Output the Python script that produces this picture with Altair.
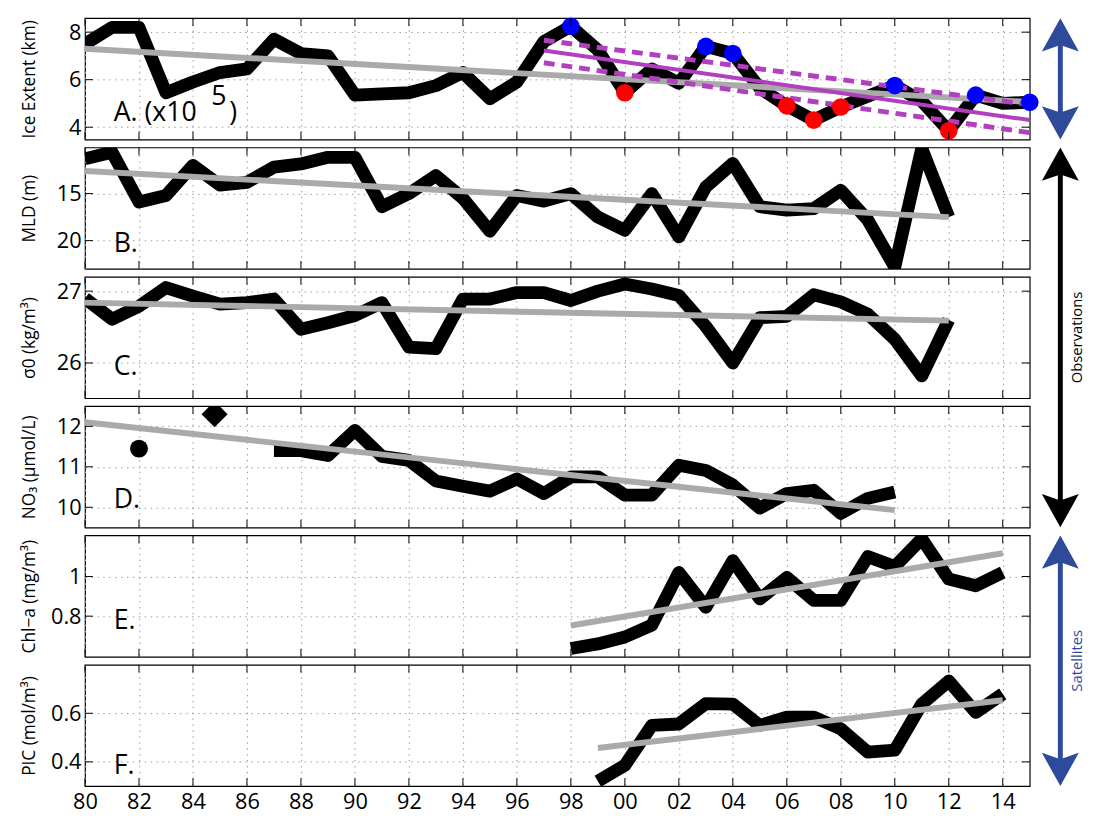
import altair as alt
import pandas as pd

# ---------------- data ----------------
X_TICKS = list(range(1980, 2016, 2))

# A. Ice extent (x10^5 km)
ice_years = list(range(1980, 2016))
ice_extent = [7.5, 8.2, 8.2, 5.45, 5.9, 6.3, 6.45, 7.7, 7.1, 7.0,
              5.35, 5.4, 5.45, 5.75, 6.3, 5.2, 5.9, 7.6, 8.25, 7.25,
              5.45, 6.45, 5.85, 7.4, 7.1, 5.65, 4.9, 4.3, 4.85, 5.3,
              5.75, 5.1, 3.85, 5.35, 5.0, 5.05]
blue_years = [1998, 2003, 2004, 2010, 2013, 2015]
red_years = [2000, 2006, 2007, 2008, 2012]
ice_trend_years = [1980, 2015]
ice_trend = [7.3, 5.06]
fit_years = [1997, 2015]
fit_mid = [7.23, 4.30]
fit_upper = [7.66, 4.95]
fit_lower = [6.71, 3.77]

# B. Mixed layer depth (m)
mld_years = list(range(1980, 2013))
mld = [11.3, 10.6, 15.9, 15.2, 12.0, 14.1, 13.8, 12.2, 11.85, 11.15,
       11.15, 16.4, 15.0, 13.1, 15.5, 19.0, 15.2, 15.8, 15.0, 17.5,
       18.9, 15.0, 19.6, 14.3, 11.8, 16.4, 16.75, 16.6, 14.65, 17.8,
       22.8, 10.2, 17.5]
mld_trend_years = [1980, 2012]
mld_trend = [12.6, 17.5]

# C. sigma0 (kg/m3)
sig_years = list(range(1980, 2013))
sigma0 = [26.9, 26.61, 26.79, 27.05, 26.93, 26.82, 26.84, 26.89, 26.47, 26.56,
          26.66, 26.84, 26.22, 26.2, 26.89, 26.89, 26.98, 26.98, 26.87, 27.0,
          27.1, 27.03, 26.94, 26.51, 26.0, 26.63, 26.65, 26.95, 26.85, 26.68,
          26.33, 25.82, 26.6]
sig_trend_years = [1980, 2012]
sig_trend = [26.84, 26.59]

# D. NO3 (umol/L)
no3_dot_year = [1982]
no3_dot = [11.45]
no3_diamond_year = [1984.8]
no3_diamond = [12.3]
no3_years = list(range(1987, 2011))
no3 = [11.4, 11.4, 11.28, 11.9, 11.26, 11.16, 10.65, 10.52, 10.4, 10.7,
       10.34, 10.75, 10.75, 10.3, 10.3, 11.04, 10.91, 10.55, 9.98, 10.34,
       10.42, 9.85, 10.22, 10.38]
no3_trend_years = [1980, 2010]
no3_trend = [12.1, 9.93]

# E. Chl-a (mg/m3)
chl_years = list(range(1998, 2015))
chl = [0.637, 0.66, 0.695, 0.755, 1.02, 0.845, 1.08, 0.887, 0.995, 0.88,
       0.88, 1.10, 1.05, 1.19, 0.987, 0.953, 1.02]
chl_trend_years = [1998, 2014]
chl_trend = [0.753, 1.117]

# F. PIC (mol/m3)
pic_years = list(range(1999, 2015))
pic = [0.32, 0.386, 0.55, 0.556, 0.64, 0.638, 0.55, 0.584, 0.584, 0.536,
       0.44, 0.448, 0.638, 0.733, 0.604, 0.68]
pic_trend_years = [1999, 2014]
pic_trend = [0.457, 0.654]

# ---------------- layout / style ----------------
W, H, GAP = 957, 123, 8
ARROW_W = 42
FONT = "Open Sans, DejaVu Sans"
BLUE_ARROW = "#2d4a9b"
GRAY = "#aaaaaa"
MAGENTA = "#b23fbf"
TICK_LEN = 8
LABEL_SIZE = 27


def frame(xs, ys):
    return pd.DataFrame({"year": xs, "v": ys})


def make_panel(ytitle, ydomain, yticks, label, extra, reverse=False, bottom=False):
    xscale = alt.Scale(domain=[1980, 2015], nice=False, zero=False)
    yscale = alt.Scale(domain=ydomain, nice=False, zero=False, reverse=reverse)
    if bottom:
        xaxis = alt.Axis(values=X_TICKS, title=None, labels=True,
                         labelExpr="format(datum.value % 100, '02d')",
                         labelPadding=6, labelFlush=False, labelOverlap=False)
    else:
        xaxis = alt.Axis(values=X_TICKS, title=None, labels=False)
    yaxis = alt.Axis(values=yticks, title=ytitle, format="~g", labelPadding=4,
                     titleX=-56, titleY=H / 2, titleAngle=270,
                     titleAlign="center", titleBaseline="middle")

    def X():
        return alt.X("year:Q", scale=xscale, axis=xaxis)

    def Y():
        return alt.Y("v:Q", scale=yscale, axis=yaxis)

    layers = []
    for kind, xs, ys, props in extra:
        d = frame(xs, ys)
        if kind == "thick":
            layers.append(alt.Chart(d).mark_line(color="black", strokeWidth=13, clip=True,
                                                 strokeJoin="round").encode(x=X(), y=Y()))
        elif kind == "trend":
            layers.append(alt.Chart(d).mark_line(color=GRAY, strokeWidth=6, clip=True).encode(x=X(), y=Y()))
        elif kind == "line":
            layers.append(alt.Chart(d).mark_line(**props).encode(x=X(), y=Y()))
        elif kind == "circle":
            layers.append(alt.Chart(d).mark_circle(opacity=1, **props).encode(x=X(), y=Y()))
        elif kind == "point":
            layers.append(alt.Chart(d).mark_point(filled=True, opacity=1, **props).encode(x=X(), y=Y()))

    tdf = pd.DataFrame({"year": X_TICKS})
    ydf = pd.DataFrame({"v": yticks})
    layers.append(alt.Chart(tdf).mark_rule(color="black", strokeWidth=1).encode(
        x=X(), y=alt.value(0), y2=alt.value(TICK_LEN)))
    layers.append(alt.Chart(tdf).mark_rule(color="black", strokeWidth=1).encode(
        x=X(), y=alt.value(H - TICK_LEN), y2=alt.value(H)))
    layers.append(alt.Chart(ydf).mark_rule(color="black", strokeWidth=1).encode(
        y=Y(), x=alt.value(0), x2=alt.value(TICK_LEN)))
    layers.append(alt.Chart(ydf).mark_rule(color="black", strokeWidth=1).encode(
        y=Y(), x=alt.value(W - TICK_LEN), x2=alt.value(W)))

    for txt, tx, ty in label:
        layers.append(alt.Chart(pd.DataFrame({"t": [txt]})).mark_text(
            font=FONT, fontSize=LABEL_SIZE, align="left", baseline="alphabetic", color="black"
        ).encode(text="t:N", x=alt.value(tx), y=alt.value(ty)))

    return alt.layer(*layers).properties(width=W, height=H)


ice_lookup = dict(zip(ice_years, ice_extent))

panels = [
    make_panel("Ice Extent (km)", [3.48, 8.59], [4, 6, 8],
               [("A. (x10", 29, 104), ("5", 128, 88), (")", 146, 104)],
               [("thick", ice_years, ice_extent, {}),
                ("trend", ice_trend_years, ice_trend, {}),
                ("line", fit_years, fit_mid, dict(color=MAGENTA, strokeWidth=4)),
                ("line", fit_years, fit_upper, dict(color=MAGENTA, strokeWidth=5, strokeDash=[11, 7])),
                ("line", fit_years, fit_lower, dict(color=MAGENTA, strokeWidth=5, strokeDash=[11, 7])),
                ("circle", blue_years, [ice_lookup[y] for y in blue_years], dict(color="#0000ff", size=320)),
                ("circle", red_years, [ice_lookup[y] for y in red_years], dict(color="#ff0000", size=320))]),
    make_panel("MLD (m)", [10.1, 23.0], [15, 20], [("B.", 29, 106)],
               [("thick", mld_years, mld, {}),
                ("trend", mld_trend_years, mld_trend, {})], reverse=True),
    make_panel("σ0 (kg/m³)", [25.51, 27.2], [26, 27], [("C.", 29, 100)],
               [("thick", sig_years, sigma0, {}),
                ("trend", sig_trend_years, sig_trend, {})]),
    make_panel("NO₃ (μmol/L)", [9.5, 12.5], [10, 11, 12], [("D.", 29, 103)],
               [("thick", no3_years, no3, {}),
                ("trend", no3_trend_years, no3_trend, {}),
                ("circle", no3_dot_year, no3_dot, dict(color="black", size=330)),
                ("point", no3_diamond_year, no3_diamond,
                 dict(color="black", shape="diamond", size=700, clip=True))]),
    make_panel("Chl−a (mg/m³)", [0.595, 1.207], [0.8, 1], [("E.", 29, 95)],
               [("thick", chl_years, chl, {}),
                ("trend", chl_trend_years, chl_trend, {})]),
    make_panel("PIC (mol/m³)", [0.3, 0.8], [0.4, 0.6], [("F.", 29, 111)],
               [("thick", pic_years, pic, {}),
                ("trend", pic_trend_years, pic_trend, {})], bottom=True),
]

# ---------------- right-hand arrows ----------------
TOTAL_H = 6 * H + 5 * GAP
SHAFT_X = 18
TEXT_X = 35
spans = [(0, 1, BLUE_ARROW, ""), (1, 4, "black", "Observations"), (4, 6, BLUE_ARROW, "Satellites")]
UP = "M0,-0.9L1,0.9L0,0.55L-1,0.9Z"
DOWN = "M0,0.9L1,-0.9L0,-0.55L-1,-0.9Z"
shaft_rows, head_rows, text_rows = [], [], []
for a, b, c, t in spans:
    top = a * (H + GAP)
    bot = b * (H + GAP) - GAP
    shaft_rows.append({"y1": top + 20, "y2": bot - 20, "c": c})
    head_rows.append({"y": top + 17, "s": UP, "c": c})
    head_rows.append({"y": bot - 17, "s": DOWN, "c": c})
    if t:
        text_rows.append({"y": (top + bot) / 2, "t": t, "c": c})

shafts = alt.Chart(pd.DataFrame(shaft_rows)).mark_rule(strokeWidth=5).encode(
    x=alt.value(SHAFT_X), y=alt.Y("y1:Q", scale=None, axis=None), y2="y2:Q",
    color=alt.Color("c:N", scale=None))
heads = alt.Chart(pd.DataFrame(head_rows)).mark_point(filled=True, opacity=1, size=1400, strokeWidth=0).encode(
    x=alt.value(SHAFT_X), y=alt.Y("y:Q", scale=None, axis=None),
    shape=alt.Shape("s:N", scale=None), color=alt.Color("c:N", scale=None))
labels = alt.Chart(pd.DataFrame(text_rows)).mark_text(angle=270, fontSize=15, font=FONT,
                                                      baseline="middle", align="center").encode(
    x=alt.value(TEXT_X), y=alt.Y("y:Q", scale=None, axis=None), text="t:N",
    color=alt.Color("c:N", scale=None))
arrows = alt.layer(shafts, heads, labels).properties(
    width=ARROW_W, height=TOTAL_H, view=alt.ViewBackground(stroke="transparent"))

chart = alt.hconcat(
    alt.vconcat(*panels, spacing=GAP, bounds="flush"),
    arrows, spacing=0,
).properties(
    padding={"left": 12, "top": 3, "right": 0, "bottom": 0}
).configure_view(
    stroke="black", strokeWidth=1.2
).configure_axis(
    grid=True, gridColor="#9a9a9a", gridDash=[1.5, 4.5], gridWidth=1,
    domain=False, ticks=False,
    labelFont=FONT, labelFontSize=22, labelColor="black",
    titleFont=FONT, titleFontSize=17.5, titleFontWeight="normal", titleColor="black",
)

chart.save("out.html", embed_options={"renderer": "svg", "actions": False})
